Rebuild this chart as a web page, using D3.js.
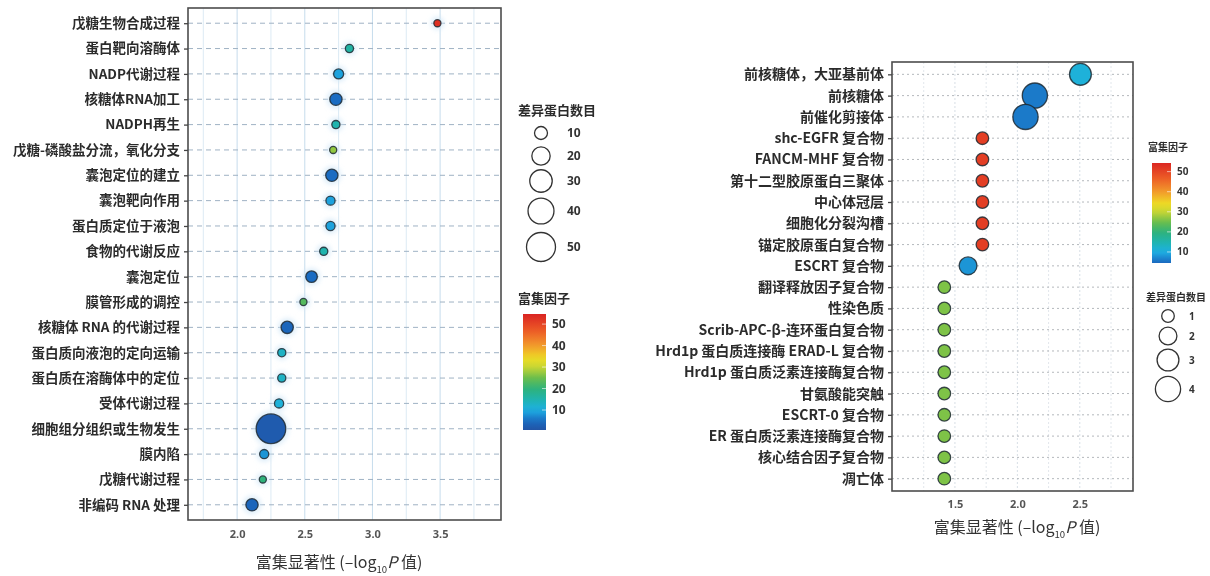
<!DOCTYPE html>
<html>
<head>
<meta charset="utf-8">
<script src="https://cdn.jsdelivr.net/npm/d3@7"></script>
<style>
  html, body { margin: 0; padding: 0; background: #fff; }
  svg { display: block; font-family: "Noto Sans CJK SC", "Noto Sans", sans-serif; }
</style>
</head>
<body>
<svg id="chart" width="1210" height="576"></svg>
<script>
// ---- Left panel: GO biological process enrichment ----
const leftTerms = [
  "戊糖生物合成过程", "蛋白靶向溶酶体", "NADP代谢过程", "核糖体RNA加工", "NADPH再生",
  "戊糖-磷酸盐分流，氧化分支", "囊泡定位的建立", "囊泡靶向作用", "蛋白质定位于液泡", "食物的代谢反应",
  "囊泡定位", "膜管形成的调控", "核糖体 RNA 的代谢过程", "蛋白质向液泡的定向运输", "蛋白质在溶酶体中的定位",
  "受体代谢过程", "细胞组分组织或生物发生", "膜内陷", "戊糖代谢过程", "非编码 RNA 处理"
];
const leftSignificance = [3.48, 2.83, 2.75, 2.73, 2.73, 2.71, 2.70, 2.69, 2.69, 2.64,
                          2.55, 2.49, 2.37, 2.33, 2.33, 2.31, 2.25, 2.20, 2.19, 2.11];
const leftCount = [3, 4, 6, 9, 4, 3, 9, 5, 5, 4, 8, 3, 9, 4, 4, 5, 52, 5, 3, 9];
const leftFactor = [53, 16, 9, 5, 15, 27, 5, 9, 9, 15, 5, 23, 4, 13, 13, 11, 2, 8, 20, 4];
const leftXTicks = [2.0, 2.5, 3.0, 3.5];
const leftSizeLegend = [10, 20, 30, 40, 50];
const leftColorTicks = [10, 20, 30, 40, 50];

// ---- Right panel: GO cellular component enrichment ----
const rightTerms = [
  "前核糖体，大亚基前体", "前核糖体", "前催化剪接体", "shc-EGFR 复合物", "FANCM-MHF 复合物",
  "第十二型胶原蛋白三聚体", "中心体冠层", "细胞化分裂沟槽", "锚定胶原蛋白复合物", "ESCRT 复合物",
  "翻译释放因子复合物", "性染色质", "Scrib-APC-β-连环蛋白复合物", "Hrd1p 蛋白质连接酶 ERAD-L 复合物", "Hrd1p 蛋白质泛素连接酶复合物",
  "甘氨酸能突触", "ESCRT-0 复合物", "ER 蛋白质泛素连接酶复合物", "核心结合因子复合物", "凋亡体"
];
const rightSignificance = [2.505, 2.14, 2.065, 1.72, 1.72, 1.72, 1.72, 1.72, 1.72, 1.605,
                           1.415, 1.415, 1.415, 1.415, 1.415, 1.415, 1.415, 1.415, 1.415, 1.415];
const rightCount = [3, 4, 4, 1, 1, 1, 1, 1, 1, 2, 1, 1, 1, 1, 1, 1, 1, 1, 1, 1];
const rightFactor = [11, 6, 6, 51, 51, 51, 51, 51, 51, 8, 26, 26, 26, 26, 26, 26, 26, 26, 26, 26];
const rightXTicks = [1.5, 2.0, 2.5];
const rightSizeLegend = [1, 2, 3, 4];
const rightColorTicks = [10, 20, 30, 40, 50];

// Shared blue → cyan → green → yellow → red palette for the enrichment factor
const paletteValues = [0, 5, 10, 15, 20, 25, 30, 34, 40, 47, 55];
const paletteColors = ["#2350a0", "#1a6cc2", "#1eb0e4", "#1fb4ae", "#2fb27a", "#6cbe4c",
                       "#c8d634", "#eedc24", "#f29a2c", "#ec5a26", "#d92222"];
const colorOf = d3.scaleLinear().domain(paletteValues).range(paletteColors)
  .interpolate(d3.interpolateRgb).clamp(true);

const svg = d3.select("#chart");
const defs = svg.append("defs");
defs.append("filter").attr("id", "halo")
  .attr("x", "-50%").attr("y", "-50%").attr("width", "200%").attr("height", "200%")
  .append("feGaussianBlur").attr("stdDeviation", 2.5);

function gradient(id, lo, hi) {
  const g = defs.append("linearGradient").attr("id", id)
    .attr("x1", 0).attr("y1", 1).attr("x2", 0).attr("y2", 0);
  d3.range(0, 1.0001, 0.05).forEach(t => {
    const v = lo + t * (hi - lo);
    g.append("stop").attr("offset", t).attr("stop-color", colorOf(v));
  });
}

function axisTitle(g, cx, cy, size) {
  const t = g.append("text").attr("x", cx).attr("y", cy)
    .attr("text-anchor", "middle").attr("font-size", size).attr("fill", "#333")
    .attr("font-family", "'Noto Sans CJK SC', sans-serif");
  t.append("tspan").text("富集显著性 (–log");
  t.append("tspan").attr("font-size", size * 0.6).attr("dy", size * 0.3).text("10");
  t.append("tspan").attr("dy", -size * 0.3).attr("font-style", "italic").text("P");
  t.append("tspan").text(" 值)");
}

function panel(cfg) {
  const g = svg.append("g");
  const x = d3.scaleLinear().domain(cfg.xDomain).range([cfg.left, cfg.right]);
  const y = d3.scalePoint().domain(cfg.terms).range([cfg.top, cfg.bottom]).padding(cfg.pad);
  const r = d3.scaleSqrt().domain([0, 1]).range([0, cfg.rk]);

  // vertical grid every 0.25
  const grid = d3.range(Math.ceil(cfg.xDomain[0] * 4) / 4, cfg.xDomain[1], 0.25)
    .filter(v => v > cfg.xDomain[0] + 0.01);
  g.append("g").selectAll("line").data(grid).join("line")
    .attr("x1", d => x(d)).attr("x2", d => x(d))
    .attr("y1", cfg.top).attr("y2", cfg.bottom)
    .attr("stroke", d => Math.abs(d * 2 - Math.round(d * 2)) < 1e-6 ? cfg.vGridMajor : cfg.vGridMinor)
    .attr("stroke-width", 1)
    .attr("stroke-dasharray", cfg.vDash);

  // horizontal dashed guides
  g.append("g").selectAll("line").data(cfg.terms).join("line")
    .attr("x1", cfg.left).attr("x2", cfg.right)
    .attr("y1", d => y(d)).attr("y2", d => y(d))
    .attr("stroke", cfg.hGrid).attr("stroke-width", 1)
    .attr("stroke-dasharray", cfg.hDash);

  const rows = cfg.terms.map((t, i) => ({ term: t, sig: cfg.sig[i], n: cfg.count[i], f: cfg.factor[i] }));

  if (cfg.halo) {
    g.append("g").attr("filter", "url(#halo)").selectAll("circle").data(rows).join("circle")
      .attr("cx", d => x(d.sig)).attr("cy", d => y(d.term))
      .attr("r", d => r(d.n) + 3)
      .attr("fill", "#cfe6f6").attr("opacity", 0.7);
  }

  g.append("g").selectAll("circle").data(rows).join("circle")
    .attr("cx", d => x(d.sig)).attr("cy", d => y(d.term))
    .attr("r", d => r(d.n))
    .attr("fill", d => colorOf(d.f))
    .attr("stroke", "#1f2a33").attr("stroke-opacity", 0.85).attr("stroke-width", 1.3);

  // frame
  g.append("rect").attr("x", cfg.left).attr("y", cfg.top)
    .attr("width", cfg.right - cfg.left).attr("height", cfg.bottom - cfg.top)
    .attr("fill", "none").attr("stroke", "#4d4d4d").attr("stroke-width", 1.6);

  // y axis with term labels
  const ya = g.append("g").attr("transform", `translate(${cfg.left},0)`)
    .call(d3.axisLeft(y).tickSize(4).tickPadding(4));
  ya.select(".domain").remove();
  ya.selectAll(".tick line").attr("stroke", "#444").attr("stroke-width", 1.3);
  ya.selectAll("text").attr("font-size", cfg.labelSize).attr("font-weight", 600)
    .attr("fill", "#2b2b2b").attr("font-family", "'Noto Sans CJK SC', sans-serif");

  // x axis
  const xa = g.append("g").attr("transform", `translate(0,${cfg.bottom})`)
    .call(d3.axisBottom(x).tickValues(cfg.xTicks).tickFormat(d3.format(".1f")).tickSize(0).tickPadding(cfg.xPad));
  xa.select(".domain").remove();
  xa.selectAll("text").attr("font-size", 11).attr("font-weight", 700).attr("fill", "#555")
    .attr("font-family", "'Noto Sans', sans-serif");

  axisTitle(g, cfg.titleX, cfg.titleY, 16);
}

function sizeLegend(cfg) {
  const g = svg.append("g");
  const r = d3.scaleSqrt().domain([0, 1]).range([0, cfg.rk]);
  g.append("text").attr("x", cfg.titleX).attr("y", cfg.titleY)
    .attr("font-size", cfg.titleSize).attr("font-weight", 700).attr("fill", "#2b2b2b")
    .text("差异蛋白数目");
  g.selectAll("circle").data(cfg.values).join("circle")
    .attr("cx", cfg.cx).attr("cy", (d, i) => cfg.ys[i]).attr("r", d => r(d))
    .attr("fill", "none").attr("stroke", "#333").attr("stroke-width", 1.3);
  g.selectAll("text.lab").data(cfg.values).join("text").attr("class", "lab")
    .attr("x", cfg.labelX).attr("y", (d, i) => cfg.ys[i]).attr("dy", "0.35em")
    .attr("font-size", cfg.labelSize).attr("font-weight", 700).attr("fill", "#333")
    .attr("font-family", "'Noto Sans', sans-serif")
    .text(d => d);
}

function colorLegend(cfg) {
  const g = svg.append("g");
  gradient(cfg.id, cfg.lo, cfg.hi);
  g.append("text").attr("x", cfg.titleX).attr("y", cfg.titleY)
    .attr("font-size", cfg.titleSize).attr("font-weight", 700).attr("fill", "#2b2b2b")
    .text("富集因子");
  g.append("rect").attr("x", cfg.x).attr("y", cfg.top).attr("width", cfg.w)
    .attr("height", cfg.bottom - cfg.top).attr("fill", `url(#${cfg.id})`);
  const s = d3.scaleLinear().domain([cfg.lo, cfg.hi]).range([cfg.bottom, cfg.top]);
  g.selectAll("line").data(cfg.ticks).join("line")
    .attr("x1", cfg.x + cfg.w - 4).attr("x2", cfg.x + cfg.w)
    .attr("y1", d => s(d)).attr("y2", d => s(d))
    .attr("stroke", "#fff").attr("stroke-opacity", 0.6);
  g.selectAll("text.lab").data(cfg.ticks).join("text").attr("class", "lab")
    .attr("x", cfg.x + cfg.w + 6).attr("y", d => s(d)).attr("dy", "0.35em")
    .attr("font-size", cfg.labelSize).attr("font-weight", 700).attr("fill", "#333")
    .attr("font-family", "'Noto Sans', sans-serif")
    .text(d => d);
}

panel({
  terms: leftTerms, sig: leftSignificance, count: leftCount, factor: leftFactor,
  xDomain: [1.637, 3.95], xTicks: leftXTicks,
  left: 188, right: 501, top: 8, bottom: 520, pad: 0.6, rk: 2.05,
  vGridMajor: "#c6dcec", vGridMinor: "#dceaf4", vDash: null,
  hGrid: "#9fb2c4", hDash: "5,4", halo: true,
  labelSize: 13.5, xPad: 10, titleX: 339, titleY: 568
});

panel({
  terms: rightTerms, sig: rightSignificance, count: rightCount, factor: rightFactor,
  xDomain: [0.996, 2.926], xTicks: rightXTicks,
  left: 892, right: 1133, top: 62, bottom: 491, pad: 0.58, rk: 6.3,
  vGridMajor: "#d8dfe6", vGridMinor: "#e2e7ec", vDash: "2,2",
  hGrid: "#b4b8bc", hDash: "2,3", halo: false,
  labelSize: 14, xPad: 9, titleX: 1017, titleY: 533
});

sizeLegend({
  values: leftSizeLegend, rk: 2.05, cx: 541, ys: [133, 156, 181, 211, 247],
  labelX: 567, labelSize: 12, titleX: 518, titleY: 115, titleSize: 13
});
colorLegend({
  id: "gradLeft", lo: 0.7, hi: 54.7, ticks: leftColorTicks,
  x: 523, w: 23, top: 314, bottom: 430, labelSize: 12,
  titleX: 518, titleY: 303, titleSize: 13
});

colorLegend({
  id: "gradRight", lo: 4.5, hi: 54.3, ticks: rightColorTicks,
  x: 1152, w: 19, top: 163, bottom: 263, labelSize: 10,
  titleX: 1148, titleY: 151, titleSize: 10
});
sizeLegend({
  values: rightSizeLegend, rk: 6.3, cx: 1168, ys: [316, 336, 360, 389],
  labelX: 1189, labelSize: 10, titleX: 1146, titleY: 301, titleSize: 10
});
</script>
</body>
</html>
